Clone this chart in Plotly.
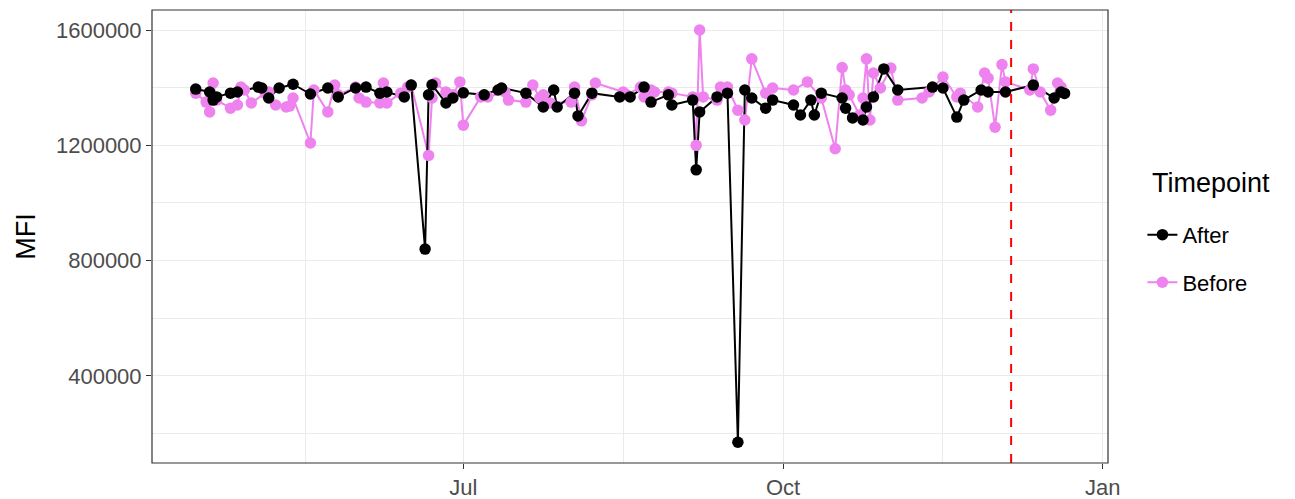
import plotly.graph_objects as go

# ---- data ----
after_dates = [
    "2021-04-15", "2021-04-19", "2021-04-20", "2021-04-21", "2021-04-25", "2021-04-27",
    "2021-05-03", "2021-05-04", "2021-05-06", "2021-05-09", "2021-05-13", "2021-05-18",
    "2021-05-23", "2021-05-26", "2021-05-31", "2021-06-03", "2021-06-07", "2021-06-09",
    "2021-06-14", "2021-06-16", "2021-06-20", "2021-06-21", "2021-06-22", "2021-06-26",
    "2021-06-28", "2021-07-01", "2021-07-07", "2021-07-11", "2021-07-12", "2021-07-19",
    "2021-07-24", "2021-07-27", "2021-07-28", "2021-08-02", "2021-08-03", "2021-08-07",
    "2021-08-15", "2021-08-18", "2021-08-22", "2021-08-24", "2021-08-29", "2021-08-30",
    "2021-09-05", "2021-09-06", "2021-09-07", "2021-09-12", "2021-09-15", "2021-09-18",
    "2021-09-20", "2021-09-22", "2021-09-26", "2021-09-28", "2021-10-04", "2021-10-06",
    "2021-10-09", "2021-10-10", "2021-10-12", "2021-10-18", "2021-10-19", "2021-10-21",
    "2021-10-24", "2021-10-25", "2021-10-27", "2021-10-30", "2021-11-03", "2021-11-13",
    "2021-11-16", "2021-11-20", "2021-11-22", "2021-11-27", "2021-11-29", "2021-12-04",
    "2021-12-12", "2021-12-18", "2021-12-20", "2021-12-21",
]
after_values = [
    1395000, 1385000, 1357000, 1368000, 1381000, 1385000,
    1402000, 1399000, 1364000, 1399000, 1412000, 1378000,
    1399000, 1368000, 1399000, 1402000, 1381000, 1385000,
    1368000, 1409000, 840000, 1375000, 1410000, 1347000,
    1364000, 1382000, 1375000, 1392000, 1399000, 1381000,
    1333000, 1392000, 1333000, 1381000, 1302000, 1381000,
    1368000, 1368000, 1402000, 1350000, 1375000, 1340000,
    1357000, 1115000, 1316000, 1368000, 1381000, 170000,
    1392000, 1364000, 1329000, 1357000, 1340000, 1305000,
    1357000, 1305000, 1381000, 1364000, 1329000, 1295000,
    1288000, 1333000, 1368000, 1465000, 1392000, 1402000,
    1399000, 1298000, 1357000, 1392000, 1385000, 1385000,
    1409000, 1364000, 1385000, 1380000,
]

before_dates = [
    "2021-04-15", "2021-04-18", "2021-04-19", "2021-04-20", "2021-04-21", "2021-04-25",
    "2021-04-27", "2021-04-28", "2021-04-29", "2021-05-01", "2021-05-05", "2021-05-06",
    "2021-05-08", "2021-05-11", "2021-05-12", "2021-05-13", "2021-05-18", "2021-05-19",
    "2021-05-23", "2021-05-25", "2021-05-26", "2021-05-31", "2021-06-01", "2021-06-03",
    "2021-06-07", "2021-06-08", "2021-06-09", "2021-06-13", "2021-06-15", "2021-06-16",
    "2021-06-21", "2021-06-22", "2021-06-23", "2021-06-26", "2021-06-28", "2021-06-30",
    "2021-07-01", "2021-07-06", "2021-07-08", "2021-07-13", "2021-07-14", "2021-07-19",
    "2021-07-21", "2021-07-23", "2021-07-24", "2021-07-26", "2021-08-01", "2021-08-02",
    "2021-08-04", "2021-08-07", "2021-08-08", "2021-08-16", "2021-08-17", "2021-08-21",
    "2021-08-22", "2021-08-24", "2021-08-25", "2021-08-29", "2021-08-30", "2021-09-05",
    "2021-09-06", "2021-09-07", "2021-09-08", "2021-09-12", "2021-09-13", "2021-09-15",
    "2021-09-18", "2021-09-20", "2021-09-22", "2021-09-26", "2021-09-28", "2021-10-04",
    "2021-10-08", "2021-10-12", "2021-10-16", "2021-10-18", "2021-10-19", "2021-10-20",
    "2021-10-23", "2021-10-24", "2021-10-25", "2021-10-26", "2021-10-27", "2021-10-29",
    "2021-11-01", "2021-11-03", "2021-11-10", "2021-11-12", "2021-11-16", "2021-11-20",
    "2021-11-21", "2021-11-26", "2021-11-28", "2021-11-29", "2021-12-01", "2021-12-03",
    "2021-12-04", "2021-12-11", "2021-12-12", "2021-12-14", "2021-12-17", "2021-12-19",
    "2021-12-20",
]
before_values = [
    1381000, 1350000, 1316000, 1416000, 1357000, 1329000,
    1340000, 1402000, 1392000, 1347000, 1381000, 1385000,
    1340000, 1333000, 1336000, 1364000, 1208000, 1392000,
    1316000, 1409000, 1375000, 1402000, 1364000, 1350000,
    1347000, 1416000, 1347000, 1381000, 1402000, 1409000,
    1165000, 1364000, 1416000, 1385000, 1375000, 1420000,
    1270000, 1368000, 1368000, 1385000, 1357000, 1350000,
    1409000, 1364000, 1375000, 1347000, 1350000, 1402000,
    1285000, 1375000, 1416000, 1385000, 1375000, 1402000,
    1368000, 1392000, 1385000, 1385000, 1381000, 1368000,
    1200000, 1600000, 1368000, 1357000, 1402000, 1402000,
    1322000, 1288000, 1500000, 1381000, 1399000, 1392000,
    1420000, 1364000, 1188000, 1470000, 1392000, 1375000,
    1305000, 1364000, 1500000, 1288000, 1451000, 1399000,
    1468000, 1357000, 1364000, 1385000, 1437000, 1368000,
    1381000, 1333000, 1451000, 1433000, 1263000, 1480000,
    1420000, 1392000, 1465000, 1385000, 1322000, 1416000,
    1402000,
]

cutoff_date = "2021-12-05T15:00"
y_ticks = [400000, 800000, 1200000, 1600000]
y_minor = [200000, 600000, 1000000, 1400000]
x_ticks = ["2021-07-01", "2021-10-01", "2022-01-01"]
x_tick_labels = ["Jul", "Oct", "Jan"]
x_minor = ["2021-05-16T12:00", "2021-08-16", "2021-11-16"]

BLACK = "#000000"
VIOLET = "#EE82EE"
MS = 11.5
LW = 2

fig = go.Figure()
# lines first
fig.add_trace(go.Scatter(x=before_dates, y=before_values, mode="lines",
                         line=dict(color=VIOLET, width=LW), showlegend=False, hoverinfo="skip"))
fig.add_trace(go.Scatter(x=after_dates, y=after_values, mode="lines",
                         line=dict(color=BLACK, width=LW), showlegend=False, hoverinfo="skip"))
# then points
fig.add_trace(go.Scatter(x=before_dates, y=before_values, mode="markers",
                         marker=dict(color=VIOLET, size=MS), showlegend=False))
fig.add_trace(go.Scatter(x=after_dates, y=after_values, mode="markers",
                         marker=dict(color=BLACK, size=MS), showlegend=False))
# legend entries
fig.add_trace(go.Scatter(x=[None], y=[None], mode="lines+markers", name="After",
                         legendgroup="a", line=dict(color=BLACK, width=LW),
                         marker=dict(color=BLACK, size=MS)))
fig.add_trace(go.Scatter(x=[None], y=[None], mode="lines+markers", name="Before",
                         legendgroup="b", line=dict(color=VIOLET, width=LW),
                         marker=dict(color=VIOLET, size=MS)))

fig.add_shape(type="line", xref="x", yref="paper", x0=cutoff_date, x1=cutoff_date,
              y0=0, y1=1, line=dict(color="#FF0000", width=2, dash="dash"))
fig.add_shape(type="rect", xref="paper", yref="paper", x0=0, x1=1, y0=0, y1=1,
              line=dict(color="#333333", width=1.2), fillcolor="rgba(0,0,0,0)")

# legend title as text
fig.add_annotation(text="Timepoint", xref="paper", yref="paper",
                   x=1.044, y=0.618, xanchor="left", yanchor="middle",
                   showarrow=False, font=dict(size=27, color="#000000"))

fig.update_layout(
    width=1295, height=499,
    margin=dict(l=152, r=187, t=10, b=36, autoexpand=False),
    paper_bgcolor="white", plot_bgcolor="white",
    font=dict(family="Liberation Sans, Arial, sans-serif", color="#000000"),
    xaxis=dict(
        type="date", automargin=False,
        range=["2021-04-02T10:00", "2022-01-02T12:00"],
        tickmode="array", tickvals=x_ticks, ticktext=x_tick_labels,
        showgrid=True, gridcolor="#EBEBEB", gridwidth=1.4,
        minor=dict(tickmode="array", tickvals=x_minor, showgrid=True,
                   gridcolor="#EBEBEB", gridwidth=0.7, ticks=""),
        ticks="outside", ticklen=5, tickcolor="#333333", tickwidth=1.1,
        tickfont=dict(size=22, color="#4D4D4D"),
        zeroline=False, showline=False,
    ),
    yaxis=dict(
        automargin=False,
        range=[98000, 1669400],
        tickmode="array", tickvals=y_ticks, tickformat="d",
        showgrid=True, gridcolor="#EBEBEB", gridwidth=1.4,
        minor=dict(tickmode="array", tickvals=y_minor, showgrid=True,
                   gridcolor="#EBEBEB", gridwidth=0.7, ticks=""),
        ticks="outside", ticklen=5, tickcolor="#333333", tickwidth=1.1,
        tickfont=dict(size=22, color="#4D4D4D"),
        title=dict(text="MFI", font=dict(size=27, color="#000000"), standoff=12),
        zeroline=False, showline=False,
    ),
    legend=dict(
        font=dict(size=22),
        x=1.036, xanchor="left", y=0.55, yanchor="top",
        tracegroupgap=16, traceorder="grouped",
        bgcolor="rgba(0,0,0,0)",
    ),
)

fig.write_html("out.html", config={"displayModeBar": False},
               post_script="document.body.style.margin='0';")
